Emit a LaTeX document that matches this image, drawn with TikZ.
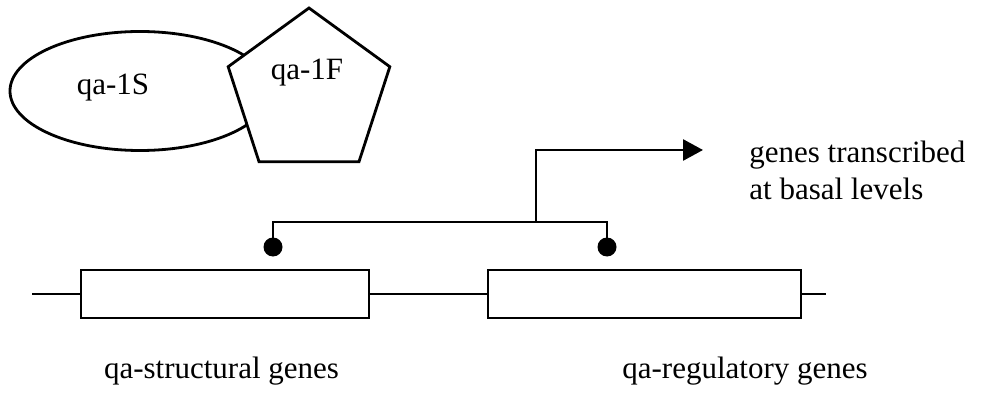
\documentclass[tikz,border=0pt]{standalone}
\usepackage{fontspec}
\setmainfont{Liberation Serif}
\usetikzlibrary{shapes.geometric,arrows.meta}

\tikzset{
  lbl/.style={inner sep=0pt, font=\fontsize{31}{37}\selectfont},
  genebox/.style={draw, rectangle, fill=white, minimum height=48pt, inner sep=0pt, outer sep=0pt},
  joint/.style={circle, fill=black, minimum size=19pt, inner sep=0pt, outer sep=0pt},
  tip/.style={-{Triangle[length=20pt,width=21pt]}},
}

\begin{document}
\begin{tikzpicture}[x=1pt, y=-1pt, line join=miter, line width=2.8pt]
  \useasboundingbox (0,0) rectangle (983,393);

  % protein complex
  \node[draw, ellipse, minimum width=260pt, minimum height=119pt, inner sep=0pt, outer sep=0pt] (slow) at (140,91) {};
  \node[draw, regular polygon, regular polygon sides=5, minimum size=170pt, fill=white, inner sep=0pt, outer sep=0pt] (fast) at (309,93) {};
  \node[lbl] (slowtxt) at (113,88) {qa-1S};
  \node[lbl] (fasttxt) at (307,73) {qa-1F};

  % regulatory bracket with the transcription arrow
  \node[joint] (dotA) at (273,247) {};
  \node[joint] (dotB) at (607,247) {};
  \coordinate (fork) at (536,222);
  \coordinate (arrowend) at (703,150);
  \draw (dotA.center) |- (fork) -| (dotB.center);
  \draw[tip] (fork) |- (arrowend);
  \node[lbl, anchor=base west] (out1) at (748,163) {genes transcribed};
  \node[lbl, anchor=base west] (out2) at (748,200) {at basal levels};

  % gene cluster
  \coordinate (trackL) at (32,294);
  \coordinate (trackR) at (826,294);
  \node[genebox, minimum width=288pt] (struct) at (225,294) {};
  \node[genebox, minimum width=313pt] (regul) at (644.5,294) {};
  \draw (trackL) -- (struct.west);
  \draw (struct.east) -- (regul.west);
  \draw (regul.east) -- (trackR);

  \node[lbl, anchor=base] (structtxt) at (221.5,378) {qa-structural genes};
  \node[lbl, anchor=base] (regultxt) at (745,378) {qa-regulatory genes};
\end{tikzpicture}
\end{document}
